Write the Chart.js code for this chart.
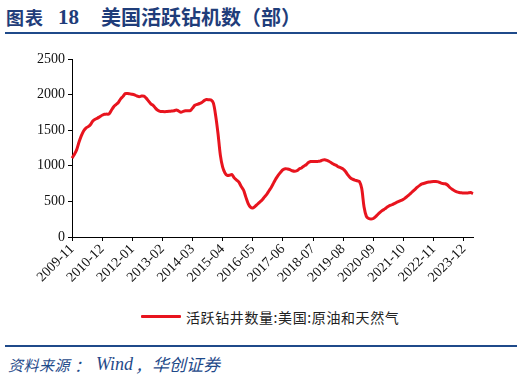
<!DOCTYPE html>
<html>
<head>
<meta charset="utf-8">
<script src="https://cdn.jsdelivr.net/npm/chart.js@4.4.0/dist/chart.umd.min.js"></script>
<style>
  html, body { margin: 0; padding: 0; background: #fff; }
  body { width: 524px; height: 381px; position: relative; overflow: hidden; }
  .t { position: absolute; top: 4px; font-family: "Noto Sans CJK SC", serif; font-weight: bold; color: #1f3d7a; white-space: nowrap; line-height: 26px; }
  .rule { position: absolute; left: 5px; width: 512px; height: 2px; background: #1f4a8a; }
  #wrap { position: absolute; left: 0; top: 40px; width: 524px; height: 260px; }
  #legend { position: absolute; left: 141px; top: 308px; height: 18px; white-space: nowrap; }
  #legend .sw { position: absolute; left: 0; top: 7px; width: 40px; height: 3px; background: #e8141e; border-radius: 1px; }
  #legend .tx { position: absolute; left: 45px; top: 0; font-family: "Noto Sans CJK SC", sans-serif; font-size: 14px; letter-spacing: 0.6px; color: #222; line-height: 18px; }
  .s { position: absolute; top: 354px; font-family: "Noto Sans CJK SC", serif; font-style: italic; color: #1f4a8a; white-space: nowrap; line-height: 22px; }
</style>
</head>
<body>
<div class="t" style="left:6px;font-size:18px;letter-spacing:1px">图表</div>
<div class="t" style="left:58px;font-size:21px;font-family:'Liberation Serif',serif">18</div>
<div class="t" style="left:101px;font-size:20px">美国活跃钻机数（部）</div>
<div class="rule" style="top:32px"></div>
<div id="wrap"><canvas id="c"></canvas></div>
<div id="legend"><div class="sw"></div><div class="tx">活跃钻井数量:美国:原油和天然气</div></div>
<div class="rule" style="top:345px"></div>
<div class="s" style="left:8px;font-size:15px;letter-spacing:0.5px">资料来源</div>
<div class="s" style="left:74px;font-size:16px">：</div>
<div class="s" style="left:96px;font-size:18px;font-family:'Liberation Serif',serif;top:353px">Wind</div>
<div class="s" style="left:135px;font-size:16px">，</div>
<div class="s" style="left:152px;font-size:17px;top:353px">华创证券</div>
<script>
// Monthly categories 2009-11 .. 2024-04
const startYear = 2009, startMonth = 11, monthCount = 174;
const categories = [];
for (let i = 0; i < monthCount; i++) {
  const t = (startMonth - 1) + i;
  const y = startYear + Math.floor(t / 12);
  const m = (t % 12) + 1;
  categories.push(y + '-' + String(m).padStart(2, '0'));
}
const seriesName = '活跃钻井数量:美国:原油和天然气';
const rigCounts = [
  1108,1160,1224,1330,1420,1490,1530,1550,1580,1630,1655,1670,
  1690,1710,1724,1726,1728,1780,1830,1860,1890,1940,1975,2015,
  2015,2010,2005,1995,1980,1970,1980,1978,1950,1910,1870,1850,
  1810,1780,1765,1762,1760,1762,1765,1770,1772,1785,1770,1752,
  1765,1772,1772,1775,1810,1850,1862,1875,1890,1915,1930,1928,
  1925,1880,1700,1450,1150,980,900,865,868,878,830,800,
  770,710,660,560,470,420,406,430,460,490,520,560,
  600,650,700,760,820,870,910,945,960,955,945,930,
  922,930,955,970,995,1015,1045,1060,1060,1060,1062,1065,
  1080,1084,1075,1060,1040,1020,1005,985,970,953,920,873,
  835,813,800,790,780,680,420,290,260,252,260,285,
  320,350,375,395,420,440,453,470,485,500,515,530,
  555,580,610,640,670,700,725,745,755,765,771,775,
  778,780,775,760,750,748,730,695,670,650,635,626,
  620,617,617,620,624,610
];
const xTickEvery = 13;
const yTicks = [0, 500, 1000, 1500, 2000, 2500];

new Chart(document.getElementById('c'), {
  type: 'line',
  data: {
    labels: categories,
    datasets: [{
      label: seriesName,
      data: rigCounts,
      borderColor: '#e8141e',
      borderWidth: 3,
      pointRadius: 0,
      tension: 0.3,
      fill: false
    }]
  },
  options: {
    responsive: true,
    maintainAspectRatio: false,
    animation: false,
    layout: { padding: { left: 0, right: 51, top: 19, bottom: 0 } },
    plugins: { legend: { display: false }, tooltip: { enabled: false } },
    scales: {
      x: {
        type: 'category',
        offset: false,
        afterBuildTicks: s => { s.ticks = s.ticks.filter((t, i) => i % xTickEvery === 0); },
        afterFit: s => { s.height = 63; },
        grid: { drawOnChartArea: false, drawTicks: true, tickLength: 4, color: '#000', lineWidth: 1 },
        border: { display: true, color: '#000', width: 1 },
        ticks: {
          autoSkip: false, maxRotation: 45, minRotation: 45, padding: 0,
          color: '#111', font: { family: "'Liberation Serif', serif", size: 14 }
        }
      },
      y: {
        min: 0, max: 2500,
        afterBuildTicks: s => { s.ticks = yTicks.map(v => ({ value: v })); },
        afterFit: s => { s.width = 72; },
        grid: { drawOnChartArea: false, drawTicks: true, tickLength: 4, color: '#000', lineWidth: 1 },
        border: { display: true, color: '#000', width: 1 },
        ticks: {
          padding: 3, color: '#111', font: { family: "'Liberation Serif', serif", size: 14 },
          callback: v => String(v)
        }
      }
    }
  }
});
</script>
</body>
</html>
